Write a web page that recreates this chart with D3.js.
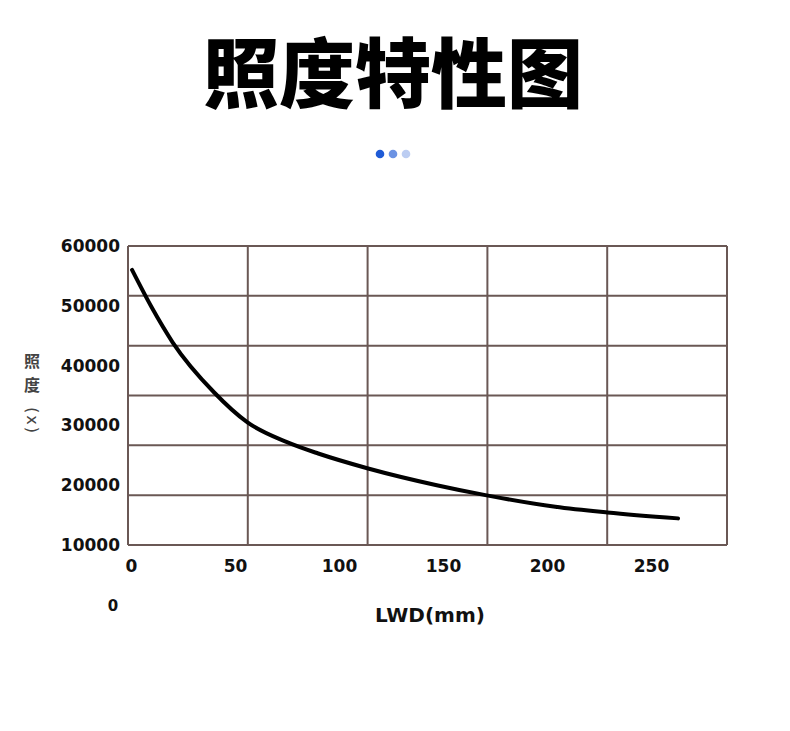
<!DOCTYPE html>
<html>
<head>
<meta charset="utf-8">
<script src="https://cdn.jsdelivr.net/npm/d3@7"></script>
<style>
  body { margin: 0; background: #fff; }
  text { font-family: "Noto Sans CJK SC", "Open Sans", sans-serif; }
</style>
</head>
<body>
<div id="chart"></div>
<script>
// curve: LWD (mm) vs illuminance (lx)
var lwd = [0.5, 10, 20, 40, 56, 75, 90, 114, 147, 171, 204, 229, 263];
var lux = [56000, 49700, 43900, 35500, 30500, 27200, 25300, 22800, 20000, 18300, 16400, 15450, 14450];

var xTicks = [0, 50, 100, 150, 200, 250];
var yTicks = [10000, 20000, 30000, 40000, 50000, 60000];

var title = "照度特性图";
var xLabel = "LWD(mm)";
var yLabelChars = ["照", "度"];
var yLabelUnit = "(x)";

var W = 790, H = 731;
var numFont = "'DejaVu Sans', sans-serif";

var svg = d3.select("#chart")
  .append("svg")
  .attr("width", W)
  .attr("height", H);

// title
svg.append("text")
  .attr("x", 393)
  .attr("y", 102)
  .attr("text-anchor", "middle")
  .style("font-size", "76px")
  .style("font-weight", 900)
  .style("fill", "#000")
  .text(title);

// three little dots under the title
var dotColors = ["#1f5bd6", "#6b92e3", "#bccdf2"];
svg.selectAll("circle.dot")
  .data(dotColors)
  .enter()
  .append("circle")
    .attr("class", "dot")
    .attr("cx", function(d, i) { return 380 + i * 13; })
    .attr("cy", 154)
    .attr("r", 4.3)
    .style("fill", function(d) { return d; });

// plot box
var box = {left: 128, right: 727, top: 246, bottom: 545};

// scales for the tick labels (they do not line up with the grid in the original)
var x = d3.scaleLinear()
  .domain([0, 250])
  .range([131, 651]);

var y = d3.scaleLinear()
  .domain([10000, 60000])
  .range([box.bottom, box.top]);

// grid: 5 columns by 6 rows
var gx = d3.scaleLinear().domain([0, 5]).range([box.left, box.right]);
var gy = d3.scaleLinear().domain([0, 6]).range([box.top, box.bottom]);

var grid = svg.append("g")
  .style("stroke", "#6a5855")
  .style("stroke-width", 2);

grid.selectAll("line.v")
  .data(d3.range(0, 6))
  .enter()
  .append("line")
    .attr("x1", function(d) { return gx(d); })
    .attr("x2", function(d) { return gx(d); })
    .attr("y1", box.top)
    .attr("y2", box.bottom);

grid.selectAll("line.h")
  .data(d3.range(0, 7))
  .enter()
  .append("line")
    .attr("x1", box.left)
    .attr("x2", box.right)
    .attr("y1", function(d) { return gy(d); })
    .attr("y2", function(d) { return gy(d); });

// x axis labels
var xAxis = svg.append("g")
  .attr("transform", "translate(0," + 557 + ")")
  .call(d3.axisBottom(x).tickValues(xTicks).tickSize(0).tickFormat(d3.format("d")));
xAxis.select(".domain").remove();
xAxis.selectAll("text")
  .style("font-size", "17px")
  .style("font-weight", "bold")
  .style("fill", "#111")
  .style("font-family", numFont);

// y axis labels
var yAxis = svg.append("g")
  .attr("transform", "translate(" + 120 + ",0)")
  .call(d3.axisLeft(y).tickValues(yTicks).tickSize(0).tickFormat(d3.format("d")));
yAxis.select(".domain").remove();
yAxis.selectAll("text")
  .attr("x", 0)
  .style("font-size", "17px")
  .style("font-weight", "bold")
  .style("fill", "#111")
  .style("font-family", numFont);

// stray "0" under the axis in the original
svg.append("text")
  .attr("x", 113)
  .attr("y", 611)
  .attr("text-anchor", "middle")
  .style("font-size", "15px")
  .style("font-weight", "bold")
  .style("fill", "#111")
  .style("font-family", numFont)
  .text("0");

// axis titles
svg.append("text")
  .attr("x", 430)
  .attr("y", 622)
  .attr("text-anchor", "middle")
  .style("font-size", "20px")
  .style("font-weight", "bold")
  .style("fill", "#111")
  .style("font-family", numFont)
  .text(xLabel);

// vertical y title: upright CJK stacked, unit rotated
svg.selectAll("text.ylab")
  .data(yLabelChars)
  .enter()
  .append("text")
    .attr("class", "ylab")
    .attr("x", 32)
    .attr("y", function(d, i) { return 367 + i * 24; })
    .attr("text-anchor", "middle")
    .style("font-size", "16px")
    .style("font-weight", "bold")
    .style("fill", "#444")
    .text(function(d) { return d; });

svg.append("text")
  .attr("transform", "translate(27,421) rotate(90)")
  .attr("text-anchor", "middle")
  .style("font-size", "16px")
  .style("letter-spacing", "2px")
  .style("fill", "#444")
  .style("font-family", numFont)
  .text(yLabelUnit);

// the curve
var pts = lwd.map(function(d, i) { return [d, lux[i]]; });
var line = d3.line()
  .x(function(d) { return x(d[0]); })
  .y(function(d) { return y(d[1]); })
  .curve(d3.curveMonotoneX);

svg.append("path")
  .datum(pts)
  .attr("d", line)
  .style("fill", "none")
  .style("stroke", "#000")
  .style("stroke-width", 4)
  .style("stroke-linecap", "round");
</script>
</body>
</html>
